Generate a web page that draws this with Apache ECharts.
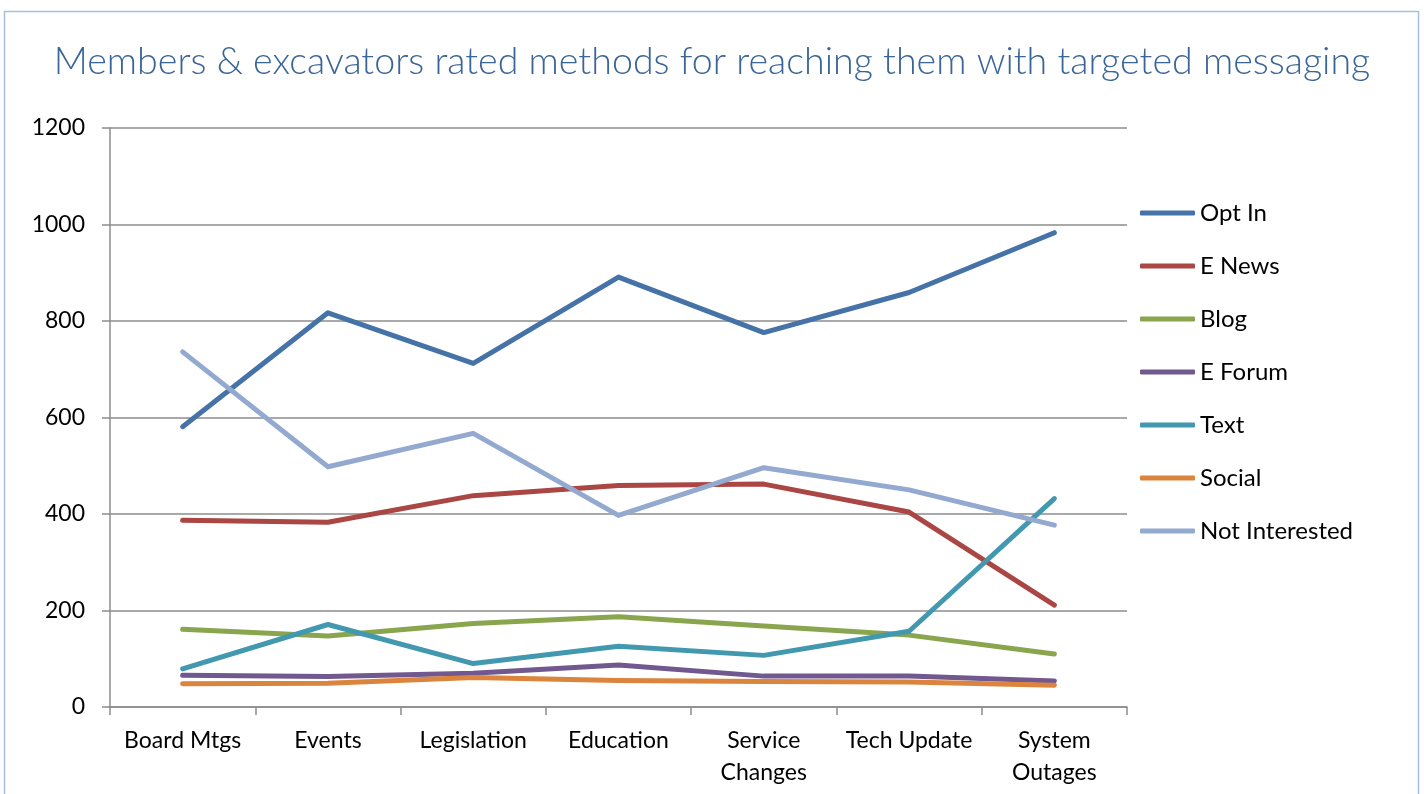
<!DOCTYPE html>
<html>
<head>
<meta charset="utf-8">
<script src="https://cdn.jsdelivr.net/npm/echarts@6/dist/echarts.min.js"></script>
<style>
html,body{margin:0;padding:0;background:#fff;}
#chart{width:1424px;height:794px;}
</style>
</head>
<body>
<div id="chart"></div>
<script>
const titleText = 'Members & excavators rated methods for reaching them with targeted messaging';
const categories = ['Board Mtgs', 'Events', 'Legislation', 'Education', 'Service\nChanges', 'Tech Update', 'System\nOutages'];
const seriesNames = ['Opt In', 'E News', 'Blog', 'E Forum', 'Text', 'Social', 'Not Interested'];
const optIn = [581, 817, 712, 891, 776, 859, 983];
const eNews = [387, 383, 438, 459, 462, 404, 211];
const blog = [161, 147, 173, 187, 168, 149, 110];
const eForum = [66, 63, 70, 87, 64, 64, 54];
const text = [79, 171, 90, 126, 107, 157, 432];
const social = [48, 49, 61, 55, 53, 52, 45];
const notInterested = [736, 498, 567, 397, 496, 450, 377];
const colors = ['#4572a7', '#aa4643', '#89a54e', '#71588f', '#4198af', '#db843d', '#93a9cf'];
const yTicks = [0, 200, 400, 600, 800, 1000, 1200];

const allData = [optIn, eNews, blog, eForum, text, social, notInterested];

const chart = echarts.init(document.getElementById('chart'));
chart.setOption({
  animation: false,
  color: colors,
  title: {
    text: titleText,
    left: 'center',
    top: 38,
    textStyle: {fontFamily: 'Lato', fontWeight: 300, fontSize: 37.6, color: '#3a6597'}
  },
  graphic: [{
    type: 'rect',
    shape: {x: 4.5, y: 11.5, width: 1414, height: 800},
    style: {fill: 'none', stroke: '#a6bfdf', lineWidth: 1.5},
    silent: true
  }],
  legend: {
    orient: 'vertical',
    left: 1135,
    top: 196,
    icon: 'roundRect',
    itemWidth: 55,
    itemHeight: 5,
    itemGap: 29,
    data: seriesNames,
    textStyle: {fontFamily: 'Lato', fontSize: 24, color: '#000', lineHeight: 24}
  },
  grid: {left: 110, right: 297, top: 128, bottom: 87, containLabel: false},
  xAxis: {
    type: 'category',
    data: categories,
    boundaryGap: true,
    axisLine: {show: true, lineStyle: {color: '#8c8c8c', width: 1.5}},
    axisTick: {show: true, length: 8, lineStyle: {color: '#8c8c8c', width: 1.5}},
    axisLabel: {fontFamily: 'Lato', fontSize: 23, color: '#000', margin: 18, lineHeight: 32, interval: 0, verticalAlign: 'top'},
    splitLine: {show: false}
  },
  yAxis: {
    type: 'value',
    min: yTicks[0],
    max: yTicks[yTicks.length - 1],
    interval: yTicks[1] - yTicks[0],
    axisLine: {show: true, lineStyle: {color: '#8c8c8c', width: 1.5}},
    axisTick: {show: true, length: 8, lineStyle: {color: '#8c8c8c', width: 1.5}},
    axisLabel: {fontFamily: 'Lato', fontSize: 23, color: '#000', margin: 25, formatter: v => String(v)},
    splitLine: {show: true, lineStyle: {color: '#8c8c8c', width: 1.5}}
  },
  series: seriesNames.map((name, i) => ({
    name: name,
    type: 'line',
    data: allData[i],
    showSymbol: false,
    symbol: 'none',
    lineStyle: {width: 5, color: colors[i], cap: 'round', join: 'round'},
    itemStyle: {color: colors[i]}
  }))
});
</script>
</body>
</html>
